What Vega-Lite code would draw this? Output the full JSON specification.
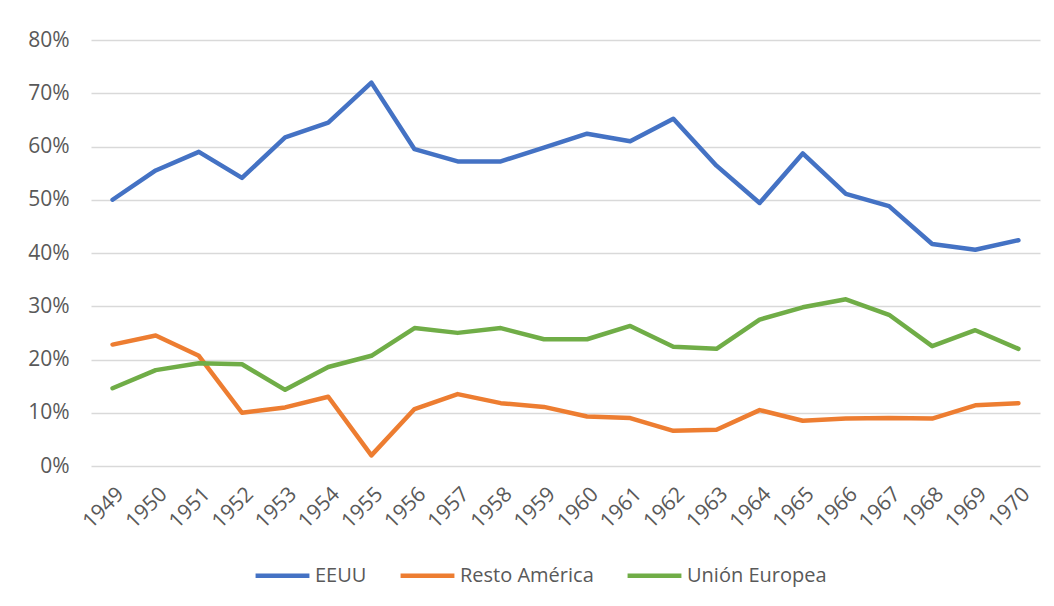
{
  "$schema": "https://vega.github.io/schema/vega-lite/v6.json",
  "width": 949,
  "height": 426,
  "autosize": "none",
  "padding": {"left": 91, "top": 40, "right": 14, "bottom": 140},
  "background": "white",
  "config": {
    "font": "Open Sans",
    "view": {"stroke": null},
    "axis": {"labelFont": "Open Sans", "labelColor": "#595959", "labelFontSize": 21}
  },
  "datasets": {
    "d": [
      {"year": "1949", "s": "EEUU", "v": 0.500}, {"year": "1950", "s": "EEUU", "v": 0.555}, {"year": "1951", "s": "EEUU", "v": 0.590}, {"year": "1952", "s": "EEUU", "v": 0.541}, {"year": "1953", "s": "EEUU", "v": 0.617}, {"year": "1954", "s": "EEUU", "v": 0.645}, {"year": "1955", "s": "EEUU", "v": 0.720}, {"year": "1956", "s": "EEUU", "v": 0.595}, {"year": "1957", "s": "EEUU", "v": 0.572}, {"year": "1958", "s": "EEUU", "v": 0.572}, {"year": "1959", "s": "EEUU", "v": 0.598}, {"year": "1960", "s": "EEUU", "v": 0.624}, {"year": "1961", "s": "EEUU", "v": 0.610}, {"year": "1962", "s": "EEUU", "v": 0.652}, {"year": "1963", "s": "EEUU", "v": 0.564}, {"year": "1964", "s": "EEUU", "v": 0.494}, {"year": "1965", "s": "EEUU", "v": 0.587}, {"year": "1966", "s": "EEUU", "v": 0.511}, {"year": "1967", "s": "EEUU", "v": 0.488}, {"year": "1968", "s": "EEUU", "v": 0.417}, {"year": "1969", "s": "EEUU", "v": 0.406}, {"year": "1970", "s": "EEUU", "v": 0.424},
      {"year": "1949", "s": "Resto América", "v": 0.228}, {"year": "1950", "s": "Resto América", "v": 0.245}, {"year": "1951", "s": "Resto América", "v": 0.207}, {"year": "1952", "s": "Resto América", "v": 0.100}, {"year": "1953", "s": "Resto América", "v": 0.110}, {"year": "1954", "s": "Resto América", "v": 0.130}, {"year": "1955", "s": "Resto América", "v": 0.020}, {"year": "1956", "s": "Resto América", "v": 0.107}, {"year": "1957", "s": "Resto América", "v": 0.135}, {"year": "1958", "s": "Resto América", "v": 0.118}, {"year": "1959", "s": "Resto América", "v": 0.111}, {"year": "1960", "s": "Resto América", "v": 0.093}, {"year": "1961", "s": "Resto América", "v": 0.090}, {"year": "1962", "s": "Resto América", "v": 0.066}, {"year": "1963", "s": "Resto América", "v": 0.068}, {"year": "1964", "s": "Resto América", "v": 0.105}, {"year": "1965", "s": "Resto América", "v": 0.085}, {"year": "1966", "s": "Resto América", "v": 0.089}, {"year": "1967", "s": "Resto América", "v": 0.090}, {"year": "1968", "s": "Resto América", "v": 0.089}, {"year": "1969", "s": "Resto América", "v": 0.114}, {"year": "1970", "s": "Resto América", "v": 0.118},
      {"year": "1949", "s": "Unión Europea", "v": 0.146}, {"year": "1950", "s": "Unión Europea", "v": 0.180}, {"year": "1951", "s": "Unión Europea", "v": 0.193}, {"year": "1952", "s": "Unión Europea", "v": 0.191}, {"year": "1953", "s": "Unión Europea", "v": 0.143}, {"year": "1954", "s": "Unión Europea", "v": 0.186}, {"year": "1955", "s": "Unión Europea", "v": 0.207}, {"year": "1956", "s": "Unión Europea", "v": 0.259}, {"year": "1957", "s": "Unión Europea", "v": 0.250}, {"year": "1958", "s": "Unión Europea", "v": 0.259}, {"year": "1959", "s": "Unión Europea", "v": 0.238}, {"year": "1960", "s": "Unión Europea", "v": 0.238}, {"year": "1961", "s": "Unión Europea", "v": 0.263}, {"year": "1962", "s": "Unión Europea", "v": 0.224}, {"year": "1963", "s": "Unión Europea", "v": 0.220}, {"year": "1964", "s": "Unión Europea", "v": 0.275}, {"year": "1965", "s": "Unión Europea", "v": 0.298}, {"year": "1966", "s": "Unión Europea", "v": 0.313}, {"year": "1967", "s": "Unión Europea", "v": 0.284}, {"year": "1968", "s": "Unión Europea", "v": 0.225}, {"year": "1969", "s": "Unión Europea", "v": 0.255}, {"year": "1970", "s": "Unión Europea", "v": 0.220}
    ]
  },
  "data": {"name": "d"},
  "mark": {"type": "line", "strokeWidth": 4.5, "strokeCap": "round", "strokeJoin": "round"},
  "encoding": {
    "x": {
      "field": "year", "type": "ordinal", "title": null,
      "scale": {"type": "point", "padding": 0.5},
      "axis": {"labelAngle": -45, "domain": false, "ticks": false, "grid": false, "labelPadding": 17, "labelFontSize": 21}
    },
    "y": {
      "field": "v", "type": "quantitative", "title": null,
      "scale": {"domain": [0, 0.8], "nice": false},
      "axis": {"format": ".0%", "values": [0, 0.1, 0.2, 0.3, 0.4, 0.5, 0.6, 0.7, 0.8], "domain": false, "ticks": false, "gridColor": "#d9d9d9", "gridWidth": 1.5, "labelPadding": 22, "labelFontSize": 21}
    },
    "color": {
      "field": "s", "type": "nominal", "title": null,
      "scale": {"domain": ["EEUU", "Resto América", "Unión Europea"], "range": ["#4472C4", "#ED7D31", "#70AD47"]},
      "legend": {
        "orient": "none", "legendX": 162, "legendY": 506, "direction": "horizontal",
        "symbolType": "stroke", "symbolSize": 2900, "symbolStrokeWidth": 4.5,
        "labelFontSize": 20, "labelColor": "#595959", "labelFont": "Open Sans",
        "columnPadding": 24, "labelOffset": 3, "symbolOffset": 0
      }
    }
  }
}
